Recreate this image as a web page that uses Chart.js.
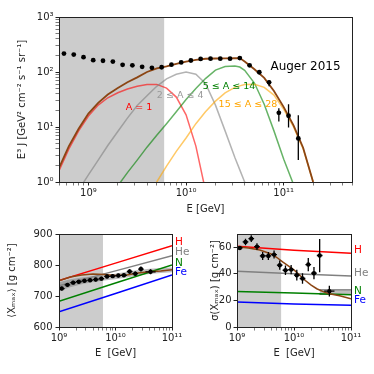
<!DOCTYPE html>
<html>
<head>
<meta charset="utf-8">
<script src="https://cdn.jsdelivr.net/npm/chart.js@4.4.0/dist/chart.umd.min.js"></script>
<style>
  html, body { margin: 0; padding: 0; background: #fff; }
  #wrap { position: relative; width: 374px; height: 374px; overflow: hidden; }
  canvas { position: absolute; }
</style>
</head>
<body>
<div id="wrap">
  <canvas id="spec" width="374" height="220" style="left:0;top:0"></canvas>
  <canvas id="xmax" width="200" height="154" style="left:0;top:220px"></canvas>
  <canvas id="sigma" width="189" height="154" style="left:185px;top:220px"></canvas>
</div>
<script>
// ===== DATA: energy spectrum (top panel) =====
const augerE = [5.62e8, 7.08e8, 8.91e8, 1.12e9, 1.41e9, 1.78e9, 2.24e9, 2.82e9, 3.55e9, 4.47e9,
                5.62e9, 7.08e9, 8.91e9, 1.12e10, 1.41e10, 1.78e10, 2.24e10, 2.82e10, 3.55e10, 4.47e10,
                5.62e10, 7.08e10, 8.91e10, 1.12e11, 1.41e11];
const augerJ = [216, 207, 186, 164, 160, 155, 135, 132, 124, 119,
                122, 136, 149, 162, 173, 175, 175, 175, 179, 132,
                99, 65, 18.1, 16, 6.2];
const augerLo = [null, null, null, null, null, null, null, null, null, null,
                 null, null, null, null, null, null, null, null, null, null,
                 null, 55, 12.6, 9.8, 2.5];
const augerHi = [null, null, null, null, null, null, null, null, null, null,
                 null, null, null, null, null, null, null, null, null, null,
                 null, 71, 22, 26, 16.4];

// model energy grid (GeV)
const modelE = [5.0e8, 6.31e8, 7.94e8, 1.0e9, 1.26e9, 1.58e9, 2.0e9, 2.51e9, 3.16e9, 3.98e9,
                5.01e9, 6.31e9, 7.94e9, 1.0e10, 1.26e10, 1.58e10, 2.0e10, 2.51e10, 3.16e10, 3.55e10,
                3.98e10, 5.01e10, 6.31e10, 7.94e10, 1.0e11, 1.26e11, 1.58e11, 2.0e11];
const protonJ = [1.6, 4.0, 8.5, 15.8, 25, 34, 42, 49, 55, 59,
                 59.5, 51, 35, 16.6, 4.5, 0.7, null, null, null, null,
                 null, null, null, null, null, null, null, null];
const heliumJ = [null, null, 0.71, 1.35, 2.5, 4.6, 8.3, 14.5, 24.5, 37,
                 55, 75, 91, 100, 91, 62, 25, 8.5, 2.8, 1.66,
                 1.0, 0.35, null, null, null, null, null, null];
const nitrogenJ = [null, null, null, null, null, null, 0.85, 1.48, 2.5, 4.3,
                   7.1, 11.5, 19, 31.6, 50, 76, 108, 126, 129, 123,
                   107, 63, 26, 8.5, 2.6, 0.9, null, null];
const siliconJ = [null, null, null, null, null, null, null, null, null, 0.5,
                  1.0, 1.95, 3.6, 6.3, 11.5, 19, 29.5, 41.7, 52.5, 56,
                  59, 60, 52.5, 38, 21, 10, 4.0, 1.0];
const totalJ = [1.8, 4.5, 9.3, 17.5, 27.5, 39, 51, 65, 80, 100,
                116, 127, 141, 155, 166, 174, 176, 177, 178, 179,
                155, 112, 78, 45, 23, 10.7, 4.2, 1.0];

const specXTicks = [1e9, 1e10, 1e11];
const specYTicks = [1, 10, 100, 1000];

// ===== DATA: <Xmax> and sigma(Xmax) (bottom panels) =====
const compE = [1.12e9, 1.41e9, 1.78e9, 2.24e9, 2.82e9, 3.55e9, 4.47e9, 5.62e9,
               7.08e9, 8.91e9, 1.12e10, 1.41e10, 1.78e10, 2.24e10, 2.82e10, 4.17e10];
const xmaxVal = [724, 736, 743, 746, 749, 751, 753, 756, 763, 764, 766, 767, 779, 772, 787, 778];
const xmaxErr = [6, 6, 6, 6, 6, 6, 6, 6, 6, 6, 6, 6, 7, 7, 8, 8];
const sigVal = [59.5, 64, 66.5, 60.5, 53.5, 53.5, 54.5, 46.5, 42.7, 43.2, 39, 36.5, 47, 40.5, 53.8, 27];
const sigErr = [1.5, 2.5, 2.5, 2.5, 3, 3, 3, 3.5, 3.5, 3.5, 4, 4, 5, 4.6, 12.5, 4];
const binHalfDex = [0.05, 0.05, 0.05, 0.05, 0.05, 0.05, 0.05, 0.05,
                    0.05, 0.05, 0.05, 0.05, 0.05, 0.05, 0.05, 0.09];

const pureE = [1e9, 1e10, 1e11];
const xmaxH = [750, 806, 862];
const xmaxHe = [733, 781, 830];
const xmaxN = [683, 742, 800];
const xmaxFe = [649, 708, 768];
const sigH = [60.7, 57.8, 55.6];
const sigHe = [41.9, 40.0, 38.3];
const sigN = [26.8, 25.5, 24.3];
const sigFe = [18.8, 17.4, 16.3];

const xmaxModelE = [1e9, 1.58e9, 2.51e9, 3.98e9, 6.31e9, 1e10, 1.58e10, 2.51e10, 3.98e10, 6.31e10, 1e11];
const xmaxModel = [749, 761, 768, 771, 769, 766, 768, 774, 778, 781, 785];
const xmaxBandLo = [716, 728, 738, 745, 750, 754, 760, 766, 771, 774, 777];
const xmaxBandHi = [744, 754, 760, 764, 768, 772, 778, 784, 788, 790, 792];

const sigModelE = [1e9, 1.58e9, 2.51e9, 3.98e9, 5.01e9, 6.31e9, 7.94e9, 1e10,
                   1.26e10, 1.58e10, 2e10, 2.51e10, 3.16e10, 3.98e10, 6.31e10, 1e11];
const sigModel = [60.5, 59.5, 58, 55, 52.3, 49, 46, 43, 39, 35, 31.5, 28.8, 26.8, 25.2, 23.5, 21.3];
const sigBandE = [2.8e10, 1e11];
const sigBandLo = [24.5, 24.5];
const sigBandHi = [28, 28];

const compXTicks = [1e9, 1e10, 1e11];
const xmaxYTicks = [600, 700, 800, 900];
const sigYTicks = [0, 20, 40, 60];

// ===== GLOBAL STYLE =====
const FONT = "'DejaVu Sans', sans-serif";
Chart.defaults.font.family = FONT;
Chart.defaults.font.size = 10;
Chart.defaults.color = '#222';
Chart.defaults.animation = false;
const INK = '#222';
const SHADE = '#cccccc';
const BROWN = '#8b4513';

// ===== HELPERS =====
const sup = { '0': '⁰', '1': '¹', '2': '²', '3': '³', '4': '⁴', '5': '⁵', '6': '⁶', '7': '⁷', '8': '⁸', '9': '⁹', '-': '⁻' };
function powLabel(v) {
    const e = Math.round(Math.log10(v));
    return '10' + String(e).split('').map(c => sup[c]).join('');
}

// majors plus the 2..9 minors in between
function logTickValues(min, max) {
    const out = [];
    for (let e = Math.floor(Math.log10(min)); e <= Math.ceil(Math.log10(max)); e++) {
        for (let m = 1; m <= 9; m++) {
            const v = m * Math.pow(10, e);
            if (v >= min * 0.9999 && v <= max * 1.0001) out.push(v);
        }
    }
    return out;
}

const tickGrid = {
    drawOnChartArea: false,
    drawTicks: true,
    tickLength: 3.5,
    tickColor: INK,
    tickWidth: c => (c.tick && c.tick.major) ? 1 : 0.6
};

function logAxis(min, max, majors, fit, title) {
    return {
        type: 'logarithmic', min, max,
        afterBuildTicks: axis => {
            axis.ticks = logTickValues(min, max).map(v => ({ value: v, major: majors.includes(v) }));
        },
        afterFit: fit,
        ticks: {
            autoSkip: false, maxRotation: 0, minRotation: 0, padding: 2, color: INK,
            font: { size: 10 },
            callback: v => majors.includes(v) ? powLabel(v) : ''
        },
        grid: tickGrid,
        border: { display: true, color: INK, width: 1 },
        title: title
    };
}

function linAxis(min, max, majors, fit, title, pad) {
    return {
        type: 'linear', min, max,
        afterBuildTicks: axis => { axis.ticks = majors.map(v => ({ value: v, major: true })); },
        afterFit: fit,
        ticks: { autoSkip: false, padding: pad, color: INK, font: { size: 10 } },
        grid: tickGrid,
        border: { display: true, color: INK, width: 1 },
        title: title
    };
}

function pts(xs, ys) {
    return xs.map((x, i) => ({ x: x, y: ys[i] }));
}

function curve(xs, ys, color, width, order) {
    return { data: pts(xs, ys), borderColor: color, borderWidth: width, pointRadius: 0, fill: false, order: order };
}

function dots(xs, ys, radius, order) {
    return { data: pts(xs, ys), showLine: false, pointRadius: radius, pointBackgroundColor: '#000',
             pointBorderWidth: 0, order: order };
}

// vertical error bars as one broken line
function vBars(xs, lo, hi, order) {
    const d = [];
    xs.forEach((x, i) => {
        if (lo[i] == null) return;
        d.push({ x: x, y: lo[i] }, { x: x, y: hi[i] }, { x: x, y: null });
    });
    return { data: d, borderColor: '#000', borderWidth: 1.3, pointRadius: 0, spanGaps: false, fill: false, order: order };
}

// horizontal bin bars on a log axis
function hBars(xs, ys, halfDex, order) {
    const d = [];
    xs.forEach((x, i) => {
        const f = Math.pow(10, halfDex[i]);
        d.push({ x: x / f, y: ys[i] }, { x: x * f, y: ys[i] }, { x: x, y: null });
    });
    return { data: d, borderColor: '#000', borderWidth: 1.3, pointRadius: 0, spanGaps: false, fill: false, order: order };
}

function shade(x0, x1, top, order) {
    return { data: [{ x: x0, y: top }, { x: x1, y: top }], fill: 'start', backgroundColor: SHADE,
             borderWidth: 0, pointRadius: 0, order: order };
}

function alignPx(v) { return Math.round(v - 0.5) + 0.5; }

const framePlugin = {
    id: 'frame',
    afterDraw(chart) {
        const { ctx, chartArea: a } = chart;
        ctx.save();
        ctx.strokeStyle = INK;
        ctx.lineWidth = 1;
        const l = alignPx(a.left), r = alignPx(a.right), t = alignPx(a.top), b = alignPx(a.bottom);
        ctx.strokeRect(l, t, r - l, b - t);
        ctx.restore();
    }
};

const labelPlugin = {
    id: 'textLabels',
    afterDatasetsDraw(chart, args, opts) {
        const { ctx, scales, chartArea } = chart;
        (opts.items || []).forEach(it => {
            const px = it.edge ? chartArea.right + it.dx : scales.x.getPixelForValue(it.x);
            const py = scales.y.getPixelForValue(it.y);
            ctx.save();
            ctx.font = it.size + 'px ' + FONT;
            ctx.fillStyle = it.color;
            ctx.textAlign = it.edge ? 'left' : 'center';
            ctx.textBaseline = 'middle';
            ctx.fillText(it.text, px, py);
            ctx.restore();
        });
    }
};

// ===== TOP: SPECTRUM =====
new Chart(document.getElementById('spec'), {
    type: 'line',
    data: {
        datasets: [
            dots(augerE, augerJ, 2.4, 0),
            vBars(augerE, augerLo, augerHi, 1),
            curve(modelE, totalJ, BROWN, 1.8, 2),
            curve(modelE, siliconJ, 'rgba(255,165,0,0.6)', 1.5, 3),
            curve(modelE, nitrogenJ, 'rgba(0,128,0,0.6)', 1.5, 4),
            curve(modelE, heliumJ, 'rgba(128,128,128,0.6)', 1.5, 5),
            curve(modelE, protonJ, 'rgba(255,0,0,0.6)', 1.5, 6),
            shade(5e8, 6e9, 1000, 10)
        ]
    },
    options: {
        responsive: false,
        layout: { padding: { left: 0, right: 22, top: 17, bottom: 0 } },
        scales: {
            x: logAxis(5e8, 5e11, specXTicks, s => { s.height = 38; },
                { display: true, text: 'E [GeV]', color: INK, font: { size: 10 }, padding: { top: 0, bottom: 5 } }),
            y: logAxis(1, 1000, specYTicks, s => { s.width = 59; },
                { display: true, text: 'E³ J [GeV² cm⁻² s⁻¹ sr⁻¹]', color: INK, font: { size: 10 }, padding: { top: 16, bottom: 0 } })
        },
        plugins: {
            legend: { display: false },
            tooltip: { enabled: false },
            textLabels: {
                items: [
                    { text: 'A = 1', x: 3.3e9, y: 23, color: '#ff0000', size: 9.5 },
                    { text: '2 ≤ A ≤ 4', x: 8.7e9, y: 38, color: '#9a9a9a', size: 9.5 },
                    { text: '5 ≤ A ≤ 14', x: 2.75e10, y: 55, color: '#008000', size: 9.5 },
                    { text: '15 ≤ A ≤ 28', x: 4.3e10, y: 25.7, color: '#ffa500', size: 9.5 },
                    { text: 'Auger 2015', x: 1.67e11, y: 124, color: '#000', size: 12 }
                ]
            }
        }
    },
    plugins: [framePlugin, labelPlugin]
});

// ===== BOTTOM LEFT: <Xmax> =====
new Chart(document.getElementById('xmax'), {
    type: 'line',
    data: {
        datasets: [
            dots(compE, xmaxVal, 2.2, 0),
            vBars(compE, xmaxVal.map((v, i) => v - xmaxErr[i]), xmaxVal.map((v, i) => v + xmaxErr[i]), 1),
            hBars(compE, xmaxVal, binHalfDex, 1),
            curve(xmaxModelE, xmaxModel, BROWN, 1.5, 2),
            curve(pureE, xmaxH, '#ff0000', 1.5, 3),
            curve(pureE, xmaxHe, '#808080', 1.5, 3),
            curve(pureE, xmaxN, '#008000', 1.5, 3),
            curve(pureE, xmaxFe, '#0000ff', 1.5, 3),
            { data: pts(xmaxModelE, xmaxBandLo), borderWidth: 0, pointRadius: 0, fill: false, order: 8 },
            { data: pts(xmaxModelE, xmaxBandHi), borderWidth: 0, pointRadius: 0, fill: '-1',
              backgroundColor: 'rgba(110,110,110,0.45)', order: 8 },
            shade(1e9, 6e9, 900, 10)
        ]
    },
    options: {
        responsive: false,
        layout: { padding: { left: 0, right: 28, top: 14, bottom: 0 } },
        scales: {
            x: logAxis(1e9, 1e11, compXTicks, s => { s.height = 47; },
                { display: true, text: 'E  [GeV]', color: INK, font: { size: 10 }, padding: { top: 0, bottom: 14.5 } }),
            y: linAxis(600, 900, xmaxYTicks, s => { s.width = 59; },
                { display: true, text: '⟨Xₘₐₓ⟩ [g cm⁻²]', color: INK, font: { size: 10 }, padding: { top: 6, bottom: 0 } }, 3)
        },
        plugins: {
            legend: { display: false },
            tooltip: { enabled: false },
            textLabels: {
                items: [
                    { text: 'H', edge: true, dx: 3, y: 872, color: '#ff0000', size: 10.5 },
                    { text: 'He', edge: true, dx: 3, y: 840, color: '#808080', size: 10.5 },
                    { text: 'N', edge: true, dx: 3, y: 806, color: '#008000', size: 10.5 },
                    { text: 'Fe', edge: true, dx: 3, y: 775, color: '#0000ff', size: 10.5 }
                ]
            }
        }
    },
    plugins: [framePlugin, labelPlugin]
});

// ===== BOTTOM RIGHT: sigma(Xmax) =====
new Chart(document.getElementById('sigma'), {
    type: 'line',
    data: {
        datasets: [
            dots(compE, sigVal, 2.2, 0),
            vBars(compE, sigVal.map((v, i) => v - sigErr[i]), sigVal.map((v, i) => v + sigErr[i]), 1),
            hBars(compE, sigVal, binHalfDex, 1),
            curve(sigModelE, sigModel, BROWN, 1.5, 2),
            curve(pureE, sigH, '#ff0000', 1.5, 3),
            curve(pureE, sigHe, '#808080', 1.5, 3),
            curve(pureE, sigN, '#008000', 1.5, 3),
            curve(pureE, sigFe, '#0000ff', 1.5, 3),
            { data: pts(sigBandE, sigBandLo), borderColor: 'rgba(70,70,70,0.8)', borderWidth: 1, pointRadius: 0, fill: false, order: 8 },
            { data: pts(sigBandE, sigBandHi), borderColor: 'rgba(70,70,70,0.8)', borderWidth: 1, pointRadius: 0, fill: '-1',
              backgroundColor: 'rgba(110,110,110,0.45)', order: 8 },
            shade(1e9, 6e9, 70, 10)
        ]
    },
    options: {
        responsive: false,
        layout: { padding: { left: 0, right: 23, top: 14, bottom: 0 } },
        scales: {
            x: logAxis(1e9, 1e11, compXTicks, s => { s.height = 47; },
                { display: true, text: 'E  [GeV]', color: INK, font: { size: 10 }, padding: { top: 0, bottom: 14.5 } }),
            y: linAxis(0, 70, sigYTicks, s => { s.width = 52; },
                { display: true, text: 'σ(Xₘₐₓ) [g cm⁻²]', color: INK, font: { size: 10 }, padding: { top: 24, bottom: 0 } }, 2)
        },
        plugins: {
            legend: { display: false },
            tooltip: { enabled: false },
            textLabels: {
                items: [
                    { text: 'H', edge: true, dx: 3, y: 58, color: '#ff0000', size: 10.5 },
                    { text: 'He', edge: true, dx: 3, y: 40.8, color: '#808080', size: 10.5 },
                    { text: 'N', edge: true, dx: 3, y: 27, color: '#008000', size: 10.5 },
                    { text: 'Fe', edge: true, dx: 3, y: 20, color: '#0000ff', size: 10.5 }
                ]
            }
        }
    },
    plugins: [framePlugin, labelPlugin]
});
</script>
</body>
</html>
